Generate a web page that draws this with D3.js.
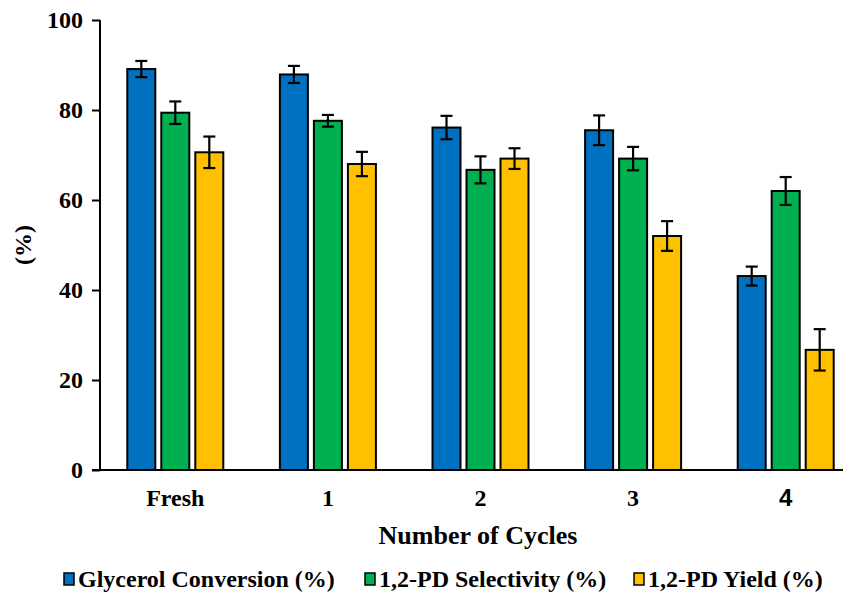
<!DOCTYPE html>
<html>
<head>
<meta charset="utf-8">
<script src="https://cdn.jsdelivr.net/npm/d3@7"></script>
<style>
  html, body { margin: 0; padding: 0; background: #fff; }
  svg { display: block; }
  text { font-family: "Liberation Serif", "Times New Roman", serif; font-weight: bold; fill: #000; }
</style>
</head>
<body>
<svg id="chart" width="853" height="593"></svg>
<script>
// Catalyst reusability data
const cycles = ["Fresh", "1", "2", "3", "4"];
const seriesNames = ["Glycerol Conversion (%)", "1,2-PD Selectivity (%)", "1,2-PD Yield (%)"];
const seriesColors = ["#0070C0", "#00B050", "#FFC000"];
const conversion = [89.1, 87.9, 76.1, 75.5, 43.1];
const conversionErr = [1.8, 1.9, 2.6, 3.3, 2.1];
const selectivity = [79.4, 77.6, 66.7, 69.2, 62.0];
const selectivityErr = [2.5, 1.3, 3.0, 2.6, 3.1];
const yieldPD = [70.6, 68.0, 69.2, 52.0, 26.7];
const yieldErr = [3.5, 2.7, 2.3, 3.3, 4.6];
const yTicks = [0, 20, 40, 60, 80, 100];

const values = [conversion, selectivity, yieldPD];
const errors = [conversionErr, selectivityErr, yieldErr];

const svg = d3.select("#chart");
const plotLeft = 100, plotTop = 20, plotBottom = 470, axisEnd = 843;

const x = d3.scaleBand().domain(cycles).range([99, 862]).paddingInner(0).paddingOuter(0);
const y = d3.scaleLinear().domain([0, 100]).range([plotBottom, plotTop]);
const barW = 28, pitch = 34;

const g = svg.append("g");

// bars
values.forEach((vals, s) => {
  g.selectAll(null).data(vals).enter().append("rect")
    .attr("x", (d, i) => x(cycles[i]) + x.bandwidth() / 2 + (s - 1) * pitch - barW / 2)
    .attr("y", d => y(d))
    .attr("width", barW)
    .attr("height", d => y(0) - y(d))
    .attr("fill", seriesColors[s])
    .attr("stroke", "#000")
    .attr("stroke-width", 2);
});

// error bars
values.forEach((vals, s) => {
  vals.forEach((v, i) => {
    const cx = x(cycles[i]) + x.bandwidth() / 2 + (s - 1) * pitch;
    const e = errors[s][i];
    const eg = g.append("g").attr("stroke", "#000").attr("stroke-width", 2.2);
    eg.append("line").attr("x1", cx).attr("x2", cx).attr("y1", y(v + e)).attr("y2", y(v - e));
    eg.append("line").attr("x1", cx - 6).attr("x2", cx + 6).attr("y1", y(v + e)).attr("y2", y(v + e));
    eg.append("line").attr("x1", cx - 6).attr("x2", cx + 6).attr("y1", y(v - e)).attr("y2", y(v - e));
  });
});

// y axis
const yAxis = svg.append("g").attr("transform", `translate(${plotLeft},0)`)
  .call(d3.axisLeft(y).tickValues(yTicks).tickSize(8).tickPadding(9));
yAxis.select(".domain").attr("stroke-width", 2).attr("d", `M0,${plotTop}V${plotBottom}`);
yAxis.selectAll(".tick line").attr("stroke-width", 2);
yAxis.selectAll(".tick text").style("font-size", "24px")
  .style("font-family", "'Liberation Serif', serif").style("font-weight", "bold");

// x axis baseline
svg.append("line").attr("x1", plotLeft - 8).attr("x2", axisEnd)
  .attr("y1", plotBottom).attr("y2", plotBottom).attr("stroke", "#000").attr("stroke-width", 2);

// x tick labels
svg.selectAll(".xlab").data(cycles).enter().append("text")
  .attr("x", d => x(d) + x.bandwidth() / 2)
  .attr("y", 506)
  .attr("text-anchor", "middle")
  .style("font-size", "24px")
  .style("font-family", d => d === "4" ? "'Liberation Sans', Arial, sans-serif" : null)
  .text(d => d);

// axis titles
svg.append("text").attr("x", 478).attr("y", 544).attr("text-anchor", "middle")
  .style("font-size", "26px").text("Number of Cycles");
svg.append("text").attr("transform", "translate(31,245) rotate(-90)").attr("text-anchor", "middle")
  .style("font-size", "24px").text("(%)");

// legend
const legendX = [64, 365, 634];
seriesNames.forEach((name, s) => {
  svg.append("rect").attr("x", legendX[s]).attr("y", 573).attr("width", 10).attr("height", 12)
    .attr("fill", seriesColors[s]).attr("stroke", "#000").attr("stroke-width", 1.5);
  svg.append("text").attr("x", legendX[s] + 14).attr("y", 587)
    .style("font-size", "24px").text(name);
});
</script>
</body>
</html>
